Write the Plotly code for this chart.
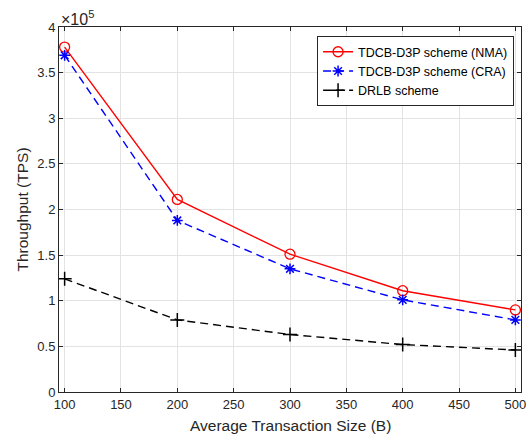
import plotly.graph_objects as go

sizes = [100, 200, 300, 400, 500]
nma = [3.78e5, 2.11e5, 1.51e5, 1.11e5, 0.90e5]
cra = [3.69e5, 1.88e5, 1.35e5, 1.01e5, 0.79e5]
drlb = [1.24e5, 0.79e5, 0.63e5, 0.52e5, 0.46e5]

ytick_vals = [0, 0.5e5, 1e5, 1.5e5, 2e5, 2.5e5, 3e5, 3.5e5, 4e5]
ytick_text = ['0', '0.5', '1', '1.5', '2', '2.5', '3', '3.5', '4']
xtick_vals = [100, 150, 200, 250, 300, 350, 400, 450, 500]

FONT = 'Liberation Sans, Arial'
INK = '#262626'

fig = go.Figure()
fig.add_trace(go.Scatter(
    x=sizes, y=nma, name='TDCB-D3P scheme (NMA)', mode='lines+markers',
    line=dict(color='#ff0000', width=1.4),
    marker=dict(symbol='circle-open', size=10, color='#ff0000', line=dict(width=1.3))))
fig.add_trace(go.Scatter(
    x=sizes, y=cra, name='TDCB-D3P scheme (CRA)', mode='lines+markers',
    line=dict(color='#0000ff', width=1.4, dash='8px,5px'),
    marker=dict(symbol='asterisk-open', size=9, color='#0000ff', line=dict(width=1.5, color='#0000ff'))))
fig.add_trace(go.Scatter(
    x=sizes, y=drlb, name='DRLB scheme', mode='lines+markers',
    line=dict(color='#000000', width=1.4, dash='8px,5px'),
    marker=dict(symbol='cross-thin-open', size=10, color='#000000', line=dict(width=1.5, color='#000000'))))

axis_common = dict(
    showline=True, linecolor=INK, linewidth=1, mirror='ticks',
    ticks='inside', ticklen=4, tickcolor=INK,
    showgrid=True, gridcolor='#e3e3e3', gridwidth=1, zeroline=False,
    tickfont=dict(family=FONT, size=13, color=INK), automargin=False,
    ticklabeloverflow='allow',
)

fig.update_xaxes(range=[95, 505], tickvals=xtick_vals, **axis_common)
fig.update_yaxes(range=[0, 4e5], tickvals=ytick_vals, ticktext=ytick_text, **axis_common)

# axis titles placed as annotations for exact pixel positions
fig.add_annotation(text='Average Transaction Size (B)', xref='paper', yref='paper',
                   x=0.5, y=0, xanchor='center', yanchor='middle', yshift=-33,
                   showarrow=False, font=dict(family=FONT, size=15.5, color=INK))
fig.add_annotation(text='Throughput (TPS)', xref='paper', yref='paper', textangle=-90,
                   x=0, y=0.5, xanchor='center', yanchor='middle', xshift=-37,
                   showarrow=False, font=dict(family=FONT, size=15.5, color=INK))
fig.add_annotation(text='×10<sup>5</sup>', xref='paper', yref='paper', x=0.0, y=1.0,
                   xanchor='left', yanchor='bottom', showarrow=False, yshift=-3,
                   font=dict(family=FONT, size=16, color=INK))

fig.update_layout(
    width=528, height=434,
    margin=dict(l=59, r=7, t=27, b=42),
    plot_bgcolor='white', paper_bgcolor='white',
    legend=dict(x=0.985, y=0.975, xanchor='right', yanchor='top',
                bgcolor='white', bordercolor=INK, borderwidth=1,
                font=dict(family=FONT, size=12.5, color='#000000'),
                tracegroupgap=0),
)

# drop the default body margin so the figure fills the window exactly
fig.write_html("out.html", config={'displayModeBar': False},
               post_script="document.body.style.margin='0';document.body.style.overflow='hidden';")
